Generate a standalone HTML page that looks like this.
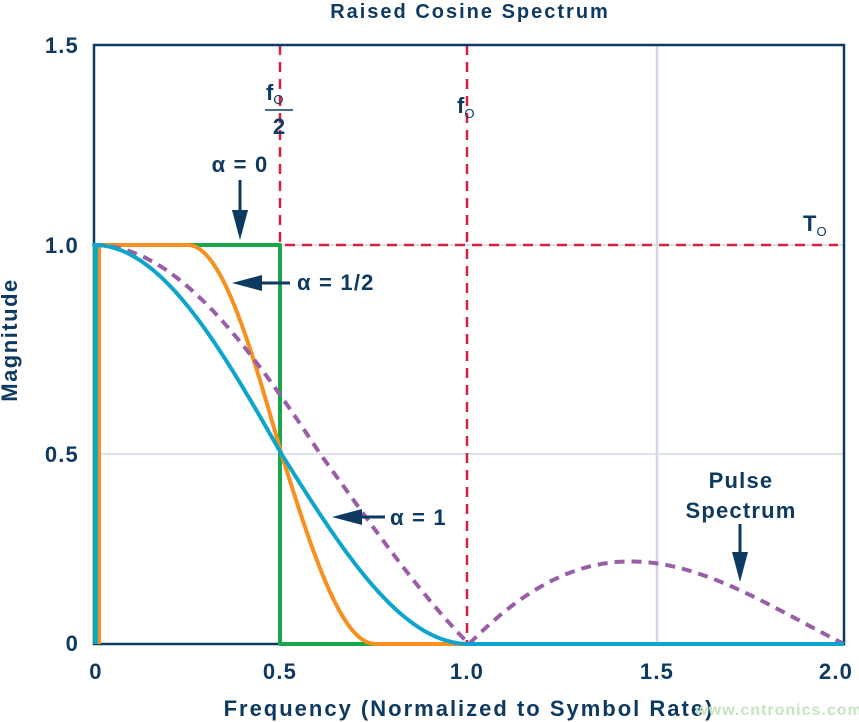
<!DOCTYPE html>
<html><head><meta charset="utf-8"><style>
body{margin:0;background:#fff}
svg{display:block;font-family:"Liberation Sans",Arial,sans-serif;font-weight:bold;fill:#0e3a62}
.t{letter-spacing:1.2px}
</style></head><body>
<svg id="s" width="859" height="722" viewBox="0 0 859 722" xmlns="http://www.w3.org/2000/svg">
<text class="t" x="470" y="18" font-size="20" text-anchor="middle" style="letter-spacing:2px">Raised Cosine Spectrum</text>
<line x1="657" y1="45" x2="657" y2="644" stroke="#cfd8e4" stroke-width="2.5"/>
<line x1="94" y1="454" x2="844" y2="454" stroke="#cfd8e4" stroke-width="1.5"/>
<line x1="94" y1="245" x2="844" y2="245" stroke="#cfd8e4" stroke-width="1.5"/>
<g stroke="#d6203e" stroke-width="2.5" stroke-dasharray="10,7" fill="none">
<line x1="280" y1="45" x2="280" y2="644"/>
<line x1="467" y1="45" x2="467" y2="644"/>
<line x1="98" y1="245" x2="838" y2="245"/>
</g>
<rect x="94" y="45" width="750" height="599" fill="none" stroke="#0e3a62" stroke-width="2.5"/>
<g id="curves" fill="none" stroke-width="4" stroke-linejoin="round"></g>
<g font-size="22" text-anchor="end" class="t">
<text x="79" y="53">1.5</text>
<text x="79" y="253">1.0</text>
<text x="79" y="462">0.5</text>
<text x="79" y="651">0</text>
</g>
<g font-size="22" text-anchor="middle" class="t">
<text x="96" y="679">0</text>
<text x="280" y="679">0.5</text>
<text x="467" y="679">1.0</text>
<text x="657" y="679">1.5</text>
<text x="836" y="679">2.0</text>
</g>
<text x="469" y="716" font-size="22" text-anchor="middle" style="letter-spacing:2px">Frequency (Normalized to Symbol Rate)</text>
<text transform="translate(17,340) rotate(-90)" font-size="22" text-anchor="middle" style="letter-spacing:1.5px">Magnitude</text>
<text x="779" y="715" font-size="16" style="fill:#c6e4c0;letter-spacing:1px" text-anchor="middle">www.cntronics.com</text>
<text x="266" y="100" font-size="22">f<tspan font-size="13" dy="4" font-weight="normal">O</tspan></text>
<line x1="265" y1="110" x2="293" y2="110" stroke="#0e3a62" stroke-width="1.5"/>
<text x="279" y="134" font-size="22" text-anchor="middle">2</text>
<text x="457" y="113" font-size="22">f<tspan font-size="13" dy="5" font-weight="normal">O</tspan></text>
<text x="803" y="231" font-size="22">T<tspan font-size="13" dy="5" font-weight="normal">O</tspan></text>
<text class="t" x="240" y="172" font-size="22" text-anchor="middle">α = 0</text>
<line x1="240" y1="180" x2="240" y2="215" stroke="#0e3a62" stroke-width="3"/>
<polygon points="232,210 248,210 240,240" fill="#0e3a62"/>
<text class="t" x="297" y="290" font-size="22">α = 1/2</text>
<line x1="258" y1="283" x2="290" y2="283" stroke="#0e3a62" stroke-width="3"/>
<polygon points="232,283 262,275 262,291" fill="#0e3a62"/>
<text class="t" x="390" y="525" font-size="22">α = 1</text>
<line x1="362" y1="517" x2="385" y2="517" stroke="#0e3a62" stroke-width="3"/>
<polygon points="332,517 362,509 362,525" fill="#0e3a62"/>
<text class="t" x="741" y="488" font-size="22" text-anchor="middle">Pulse</text>
<text class="t" x="741" y="518" font-size="22" text-anchor="middle">Spectrum</text>
<line x1="740" y1="524" x2="740" y2="556" stroke="#0e3a62" stroke-width="3"/>
<polygon points="732,552 748,552 740,582" fill="#0e3a62"/>
</svg>
<script>
function X(f){return 94+375*f;}
function Y(v){if(v<=0.5)return 644-380*v;if(v<=1)return 454-418*(v-0.5);return 245-400*(v-1);}
function path(fn,a,b,n){var d="";for(var i=0;i<=n;i++){var f=a+(b-a)*i/n;d+=(i?"L":"M")+X(f).toFixed(1)+","+Y(fn(f)).toFixed(1);}return d;}
var g=document.getElementById("curves");
function add(d,c,dash){var p=document.createElementNS("http://www.w3.org/2000/svg","path");p.setAttribute("d",d);p.setAttribute("stroke",c);if(dash)p.setAttribute("stroke-dasharray",dash);g.appendChild(p);}
add("M95,644L95,245L280,245L280,644L844,644","#1aa64a");
var orange=function(f){if(f<0.25)return 1;if(f>0.75)return 0;return 0.5*(1+Math.cos(Math.PI*(f-0.25)/0.5));};
add("M99,644L99,245"+path(orange,0.013,1,200).replace(/^M/,"L"),"#f7901e");
var sinc=function(f){if(f<1e-6)return 1;return Math.abs(Math.sin(Math.PI*f)/(Math.PI*f));};
add(path(sinc,0,2,300),"#9a5ea8","10,7");
var cy=function(f){return f>1?0:0.5*(1+Math.cos(Math.PI*f));};
add("M96,644L96,245"+path(cy,0,2,300).replace(/^M/,"L"),"#0ea5cc");
</script>
</body></html>
